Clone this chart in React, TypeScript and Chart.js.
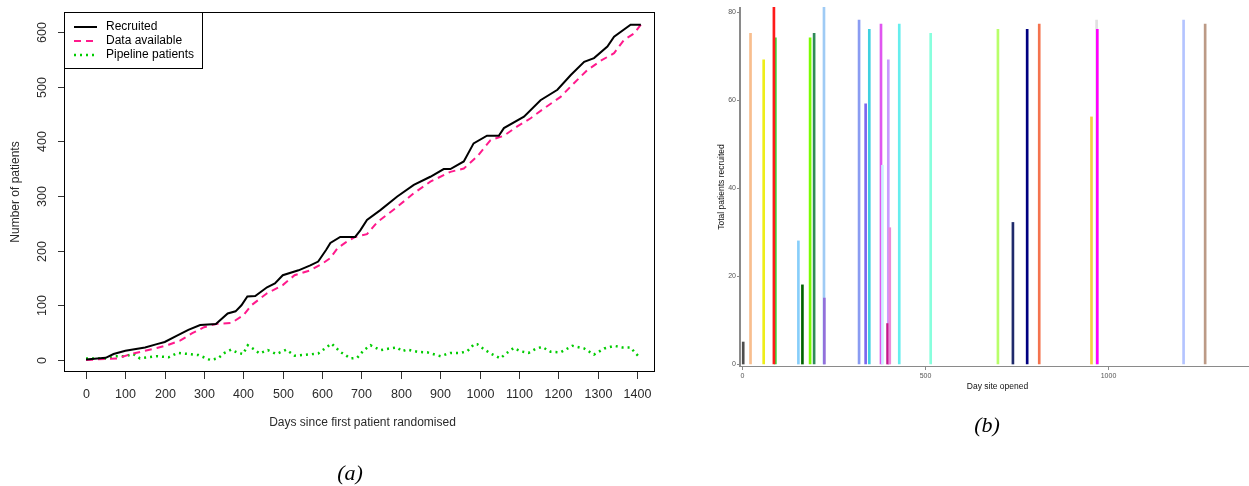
import React, { useEffect, useRef } from "react";
import { Chart, registerables } from "chart.js";
Chart.register(...registerables);

// ---------- Panel (a) data ----------
const recruitedDays = [0, 50, 70, 100, 150, 180, 200, 230, 260, 290, 330, 360, 380, 395, 410, 430, 460, 480, 500, 540, 570, 590, 610, 621, 646, 684, 697, 714, 748, 791, 833, 875, 909, 926, 960, 985, 1019, 1049, 1062, 1113, 1155, 1198, 1232, 1266, 1291, 1325, 1342, 1384, 1410];
const recruitedCounts = [1, 4, 11, 17, 23, 29, 33, 44, 55, 64, 66, 85, 89, 100, 116, 117, 133, 140, 155, 164, 173, 180, 201, 214, 225, 225, 237, 256, 274, 299, 320, 335, 349, 349, 363, 396, 410, 410, 424, 445, 475, 494, 521, 545, 552, 573, 591, 613, 613];

const availableDays = [0, 50, 80, 110, 150, 180, 210, 240, 270, 300, 330, 370, 400, 420, 460, 500, 530, 570, 600, 620, 640, 660, 684, 714, 740, 791, 833, 875, 926, 960, 994, 1028, 1062, 1096, 1130, 1164, 1206, 1240, 1274, 1308, 1342, 1367, 1393, 1410];
const availableCounts = [0, 2, 3, 10, 17, 22, 28, 36, 49, 60, 66, 68, 82, 100, 122, 137, 155, 164, 176, 186, 205, 215, 225, 230, 252, 280, 305, 326, 344, 350, 372, 402, 410, 427, 442, 460, 481, 506, 530, 547, 561, 585, 597, 613];

const pipelineDays = [0, 53, 75, 100, 120, 137, 180, 210, 233, 260, 286, 316, 335, 352, 369, 386, 399, 411, 428, 441, 462, 484, 509, 530, 564, 590, 624, 646, 672, 689, 706, 723, 748, 770, 791, 803, 816, 842, 867, 901, 926, 952, 969, 986, 994, 1011, 1028, 1053, 1066, 1087, 1104, 1125, 1142, 1159, 1181, 1206, 1236, 1266, 1291, 1317, 1342, 1363, 1384, 1397, 1408];
const pipelineCounts = [3, 3, 7, 7, 11, 3, 7, 5, 13, 11, 9, 0, 3, 13, 19, 13, 11, 27, 19, 12, 18, 11, 19, 8, 10, 12, 30, 15, 3, 4, 18, 27, 18, 21, 23, 16, 19, 15, 14, 7, 13, 13, 16, 29, 29, 20, 12, 3, 11, 22, 16, 13, 20, 24, 15, 14, 26, 21, 10, 21, 26, 23, 23, 12, 4];

const seriesLabelsA = ["Recruited", "Data available", "Pipeline patients"];
const xTicksA = [0, 100, 200, 300, 400, 500, 600, 700, 800, 900, 1000, 1100, 1200, 1300, 1400];
const yTicksA = [0, 100, 200, 300, 400, 500, 600];
const xTitleA = "Days since first patient randomised";
const yTitleA = "Number of patients";

// ---------- Panel (b) data ----------
const siteDays = [2, 22, 58, 90, 86, 153, 164, 185, 196, 223, 224, 319, 337, 347, 379, 383, 399, 397, 403, 429, 515, 699, 740, 779, 812, 955, 969, 971, 1207, 1266];
const siteTotals = [5, 75.2, 69.2, 74.2, 81.2, 28, 18, 74.2, 75.2, 81.2, 15, 78.2, 59.2, 76.1, 77.3, 45.2, 69.2, 9.2, 31, 77.3, 75.2, 76.1, 32.2, 76.1, 77.3, 56.2, 78.2, 76.1, 78.2, 77.3];
const siteColors = ["#4D4D4D", "#F8BE8E", "#EEEE1A", "#3AD83A", "#FF1A1A", "#87CEFA", "#006400", "#7CFC00", "#2E8B57", "#9FCBF5", "#9370DB", "#8A9CF2", "#7B68EE", "#40D0E0", "#E055F0", "#CDEFFF", "#C79BFF", "#C2188C", "#EE88D8", "#66EEEE", "#88FFDD", "#B8FF6A", "#1F2A6B", "#000080", "#F4734E", "#F5D142", "#E0E0E0", "#FF00FF", "#B4C4FF", "#BC9A86"];
const xTicksB = [0, 500, 1000];
const yTicksB = [0, 20, 40, 60, 80];
const xTitleB = "Day site opened";
const yTitleB = "Total patients recruited";

const SANS = '"Liberation Sans", Arial, sans-serif';

const axesA = {
  id: "axesA",
  afterDraw(chart: any) {
    const { ctx, chartArea: ca, scales } = chart;
    const x = scales.x, y = scales.y;
    ctx.save();
    ctx.strokeStyle = "#000";
    ctx.lineWidth = 1;
    ctx.strokeRect(ca.left + 0.5, ca.top + 0.5, ca.right - ca.left - 1, ca.bottom - ca.top - 1);
    ctx.strokeStyle = "#333";
    ctx.fillStyle = "#2a2a2a";
    ctx.font = "12.5px " + SANS;
    ctx.textAlign = "center";
    ctx.textBaseline = "middle";
    for (const v of xTicksA) {
      const px = Math.round(x.getPixelForValue(v)) + 0.5;
      ctx.beginPath();
      ctx.moveTo(px, ca.bottom);
      ctx.lineTo(px, ca.bottom + 7);
      ctx.stroke();
      ctx.fillText(String(v), px, ca.bottom + 23);
    }
    for (const v of yTicksA) {
      const py = Math.round(y.getPixelForValue(v)) + 0.5;
      ctx.beginPath();
      ctx.moveTo(ca.left - 6, py);
      ctx.lineTo(ca.left, py);
      ctx.stroke();
      ctx.save();
      ctx.translate(ca.left - 21, py);
      ctx.rotate(-Math.PI / 2);
      ctx.fillText(String(v), 0, 0);
      ctx.restore();
    }
    ctx.font = "12px " + SANS;
    ctx.fillText(xTitleA, (ca.left + ca.right) / 2 + 3, ca.bottom + 51);
    ctx.save();
    ctx.translate(ca.left - 48, (ca.top + ca.bottom) / 2);
    ctx.rotate(-Math.PI / 2);
    ctx.fillText(yTitleA, 0, 0);
    ctx.restore();

    // legend
    const lx = ca.left, ly = ca.top;
    ctx.strokeStyle = "#000";
    ctx.strokeRect(lx + 0.5, ly + 0.5, 138, 56);
    ctx.textAlign = "left";
    ctx.font = "12px " + SANS;
    chart.data.datasets.forEach((ds: any, i: number) => {
      const yy = ly + 15 + i * 14;
      ctx.beginPath();
      ctx.strokeStyle = ds.borderColor;
      ctx.lineWidth = ds.borderWidth;
      ctx.setLineDash(ds.borderDash || []);
      ctx.moveTo(lx + 10, yy);
      ctx.lineTo(lx + 33, yy);
      ctx.stroke();
      ctx.setLineDash([]);
      ctx.fillStyle = "#000";
      ctx.fillText(ds.label, lx + 42, yy);
    });
    ctx.restore();
  },
};

const axesB = {
  id: "axesB",
  afterDraw(chart: any) {
    const { ctx, chartArea: ca, scales } = chart;
    const x = scales.x, y = scales.y;
    ctx.save();
    ctx.strokeStyle = "#8A8A8A";
    ctx.lineWidth = 2;
    ctx.beginPath();
    ctx.moveTo(ca.left, ca.top);
    ctx.lineTo(ca.left, ca.bottom);
    ctx.stroke();
    ctx.lineWidth = 1.2;
    ctx.beginPath();
    ctx.moveTo(ca.left, ca.bottom - 0.5);
    ctx.lineTo(ca.right, ca.bottom - 0.5);
    ctx.stroke();
    ctx.lineWidth = 1;
    ctx.fillStyle = "#555";
    ctx.font = "7px " + SANS;
    ctx.textBaseline = "middle";
    ctx.textAlign = "right";
    for (const v of yTicksB) {
      const py = Math.round(y.getPixelForValue(v)) + 0.5;
      ctx.beginPath();
      ctx.moveTo(ca.left - 3, py);
      ctx.lineTo(ca.left, py);
      ctx.stroke();
      ctx.fillText(String(v), ca.left - 4, py);
    }
    ctx.textAlign = "center";
    for (const v of xTicksB) {
      const px = Math.round(x.getPixelForValue(v)) + 0.5;
      ctx.beginPath();
      ctx.moveTo(px, ca.bottom);
      ctx.lineTo(px, ca.bottom + 3);
      ctx.stroke();
      ctx.fillText(String(v), px, ca.bottom + 9);
    }
    ctx.fillStyle = "#111";
    ctx.font = "8.5px " + SANS;
    ctx.fillText(xTitleB, (ca.left + ca.right) / 2 + 3, ca.bottom + 20);
    ctx.save();
    ctx.translate(ca.left - 18, (ca.top + ca.bottom) / 2);
    ctx.rotate(-Math.PI / 2);
    ctx.fillText(yTitleB, 0, 0);
    ctx.restore();
    ctx.restore();
  },
};

const pts = (xs: number[], ys: number[]) => xs.map((d, i) => ({ x: d, y: ys[i] }));

export default function App() {
  const refA = useRef<HTMLCanvasElement>(null);
  const refB = useRef<HTMLCanvasElement>(null);

  useEffect(() => {
    const chartA = new Chart(refA.current as HTMLCanvasElement, {
      type: "line",
      data: {
        datasets: [
          { label: seriesLabelsA[0], data: pts(recruitedDays, recruitedCounts), borderColor: "#000000", borderWidth: 2, pointRadius: 0, tension: 0 },
          { label: seriesLabelsA[1], data: pts(availableDays, availableCounts), borderColor: "#FF1A8C", borderWidth: 2, borderDash: [7, 5], pointRadius: 0, tension: 0 },
          { label: seriesLabelsA[2], data: pts(pipelineDays, pipelineCounts), borderColor: "#00CC00", borderWidth: 2.5, borderDash: [2, 4], pointRadius: 0, tension: 0 },
        ],
      } as any,
      options: {
        animation: false,
        responsive: false,
        devicePixelRatio: 1,
        events: [],
        layout: { padding: { left: 64, top: 12, right: 25, bottom: 114 } },
        scales: {
          x: { type: "linear", min: -56, max: 1446, display: false, offset: false },
          y: { type: "linear", min: -21.9, max: 636.2, display: false },
        },
        plugins: { legend: { display: false }, tooltip: { enabled: false } },
      } as any,
      plugins: [axesA],
    });

    const chartB = new Chart(refB.current as HTMLCanvasElement, {
      type: "bar",
      data: {
        datasets: [
          { data: pts(siteDays, siteTotals), backgroundColor: siteColors, borderWidth: 0, barThickness: 2 },
        ],
      } as any,
      options: {
        animation: false,
        responsive: false,
        devicePixelRatio: 1,
        events: [],
        layout: { padding: { left: 60, top: 7, right: 0, bottom: 119 } },
        scales: {
          x: { type: "linear", min: -6.8, max: 1386, display: false, offset: false },
          y: { type: "linear", min: -0.68, max: 81.2, display: false },
        },
        plugins: { legend: { display: false }, tooltip: { enabled: false } },
      } as any,
      plugins: [axesB],
    });

    return () => {
      chartA.destroy();
      chartB.destroy();
    };
  }, []);

  const caption: React.CSSProperties = {
    position: "absolute",
    fontFamily: '"Liberation Serif", "Times New Roman", serif',
    fontStyle: "italic",
    fontSize: 22,
    lineHeight: "22px",
    transform: "translate(-50%, -50%)",
    color: "#000",
  };

  return (
    <div style={{ position: "fixed", left: 0, top: 0, width: 1249, height: 486, background: "#fff", overflow: "hidden" }}>
      <canvas ref={refA} width={680} height={486} style={{ position: "absolute", left: 0, top: 0, width: 680, height: 486 }} />
      <canvas ref={refB} width={569} height={486} style={{ position: "absolute", left: 680, top: 0, width: 569, height: 486 }} />
      <div style={{ ...caption, left: 350, top: 473 }}>(a)</div>
      <div style={{ ...caption, left: 987, top: 425 }}>(b)</div>
    </div>
  );
}
